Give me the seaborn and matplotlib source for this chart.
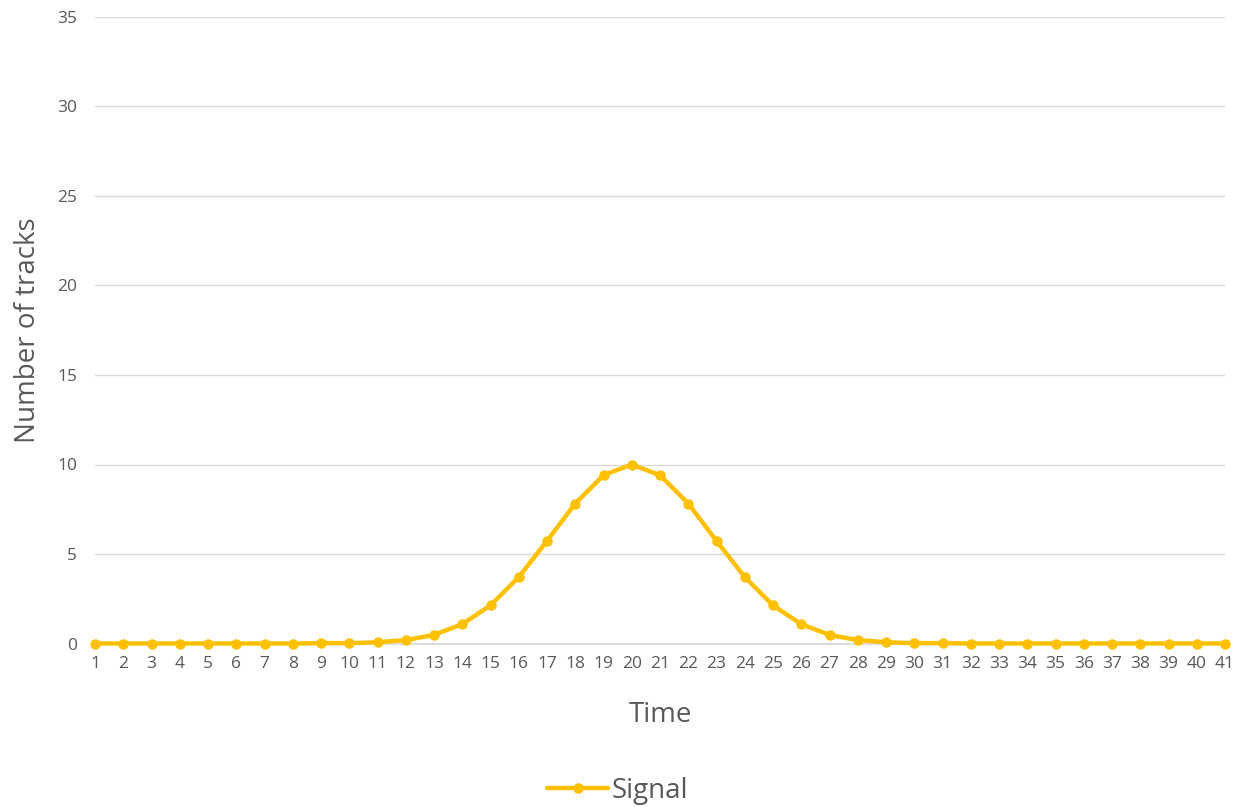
import matplotlib
matplotlib.use("Agg")
import matplotlib.pyplot as plt
import seaborn as sns
import pandas as pd

# Track counts per time step
time = list(range(1, 42))
signal = [0, 0, 0, 0, 0, 0, 0, 0, 0.02, 0.02, 0.07, 0.19, 0.48, 1.08, 2.13,
          3.71, 5.73, 7.82, 9.40, 10.0, 9.40, 7.82, 5.73, 3.71, 2.13, 1.08,
          0.48, 0.19, 0.07, 0.02, 0.02, 0, 0, 0, 0, 0, 0, 0, 0, 0, 0]
y_ticks = [0, 5, 10, 15, 20, 25, 30, 35]

df = pd.DataFrame({"Time": time, "Signal": signal})

sns.set_theme(style="white")
plt.rcParams["font.family"] = ["Open Sans", "DejaVu Sans"]

fig = plt.figure(figsize=(12.35, 8.07), dpi=100)
ax = fig.add_axes([95 / 1235, 1 - 643.5 / 807, 1130 / 1235, 626.5 / 807])

sns.lineplot(data=df, x="Time", y="Signal", ax=ax, color="#FFC000",
             linewidth=3.2, marker="o", markersize=7.5, markeredgewidth=0,
             label="Signal", clip_on=False, zorder=3)

ax.set_xlim(1, 41)
ax.set_ylim(0, 35)
ax.set_xticks(time)
ax.set_yticks(y_ticks)
ax.grid(axis="y", color="#D9D9D9", linewidth=1)
ax.grid(axis="x", visible=False)
for s in ["top", "right", "left"]:
    ax.spines[s].set_visible(False)
ax.spines["bottom"].set_color("#D9D9D9")
ax.tick_params(axis="both", length=0, labelsize=12.5, labelcolor="#595959")
ax.tick_params(axis="x", pad=9)
ax.tick_params(axis="y", pad=13)

ax.set_xlabel("Time", fontsize=20, color="#595959")
ax.set_ylabel("Number of tracks", fontsize=20, color="#595959")
ax.xaxis.set_label_coords(0.5, -0.091)
ax.yaxis.set_label_coords(-0.047, 0.5)

ax.get_legend().remove()
handles, labels = ax.get_legend_handles_labels()
fig.legend(handles, labels, loc="center", bbox_to_anchor=(0.5, 1 - 791 / 807),
           frameon=False, fontsize=20, handlelength=2.2,
           handletextpad=0.1, labelcolor="#595959")

fig.savefig("out.png", dpi=100)
